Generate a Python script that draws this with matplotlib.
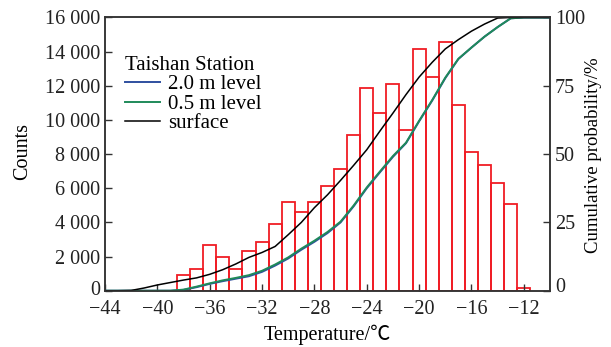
import numpy as np
import matplotlib
matplotlib.use('Agg')
import matplotlib.pyplot as plt
from matplotlib.transforms import ScaledTranslation

plt.rcParams['font.family'] = ['Liberation Serif', 'Noto Sans CJK SC']
plt.rcParams['font.size'] = 14.5

# histogram of temperatures (bar centres, counts)
bin_centers = [-38, -37, -36, -35, -34, -33, -32, -31, -30, -29, -28, -27, -26, -25,
               -24, -23, -22, -21, -20, -19, -18, -17, -16, -15, -14, -13, -12]
counts = [900, 1250, 2700, 2000, 1300, 2350, 2850, 3900, 5200, 4600, 5200, 6120, 7130, 9140,
          11900, 10420, 12100, 9400, 14180, 12540, 14540, 10900, 8150, 7350, 6320, 5080, 180]

# cumulative probability curves (%)
curve_temp = [-44, -43, -42, -41, -40, -39, -38, -37, -36, -35, -34, -33, -32, -31, -30,
              -29, -28, -27, -26, -25, -24, -23, -22, -21, -20, -19, -18, -17, -16, -15,
              -14, -13, -12, -11, -10]
surface = [0, 0, 0.1, 1.0, 2.1, 3.0, 3.9, 4.7, 6.0, 7.7, 9.8, 12.2, 14.0, 16.2, 20.5,
           25.0, 30.4, 35.1, 40.4, 45.9, 51.6, 58.4, 65.0, 71.8, 78.2, 83.6, 88.5, 91.9, 95.0, 97.6,
           99.8, 100, 100, 100, 100]
level_05 = [0, 0, 0, 0, 0, 0, 0.4, 1.5, 2.7, 3.8, 4.7, 5.7, 7.3, 9.6, 12.2,
            15.4, 18.3, 21.5, 25.3, 31.2, 37.8, 43.6, 49.3, 54.2, 62.2, 69.8, 78.0, 84.9, 89.0, 93.0,
            96.5, 99.7, 100, 100, 100]
level_20 = [0, 0, 0, 0, 0, 0, 0.3, 1.3, 2.5, 3.5, 4.4, 5.3, 6.9, 9.2, 11.8,
            15.0, 17.9, 21.1, 25.0, 30.9, 37.5, 43.3, 49.0, 54.0, 62.0, 69.6, 77.8, 84.8, 89.0, 93.0,
            96.5, 99.7, 100, 100, 100]

x_ticks = [-44, -40, -36, -32, -28, -24, -20, -16, -12]
y_ticks = [0, 2000, 4000, 6000, 8000, 10000, 12000, 14000, 16000]
y_tick_labels = ['0', '2 000', '4 000', '6 000', '8 000', '10 000', '12 000', '14 000', '16 000']
p_ticks = [0, 25, 50, 75, 100]

fig = plt.figure(figsize=(6.11, 3.47), dpi=100)
ax = fig.add_axes([0.1718, 0.1622, 0.7284, 0.7874])

ax.bar(bin_centers, counts, width=1.0, facecolor='none', edgecolor='#f01c24', linewidth=1.3)
ax.set_xlim(-44, -10)
ax.set_ylim(0, 16000)
ax.set_xticks(x_ticks)
ax.set_yticks(y_ticks)
ax.set_yticklabels(y_tick_labels)
ax.set_xlabel('Temperature/℃', labelpad=4)
ax.set_ylabel('Counts')
ax.yaxis.set_label_coords(-0.164, 0.51)
ax.tick_params(direction='in', length=5, width=1, colors='#333333', labelcolor='#222222')
ax.tick_params(axis='x', pad=7)

ax2 = ax.twinx()
ax2.plot(curve_temp, level_20, color='#2f4f9f', linewidth=1.4, label='2.0 m level')
ax2.plot(curve_temp, level_05, color='#1f8a5a', linewidth=1.4, label='0.5 m level')
ax2.plot(curve_temp, surface, color='black', linewidth=1.1, label='surface')
ax2.set_ylim(0, 100)
ax2.set_yticks(p_ticks)
ax2.set_ylabel('Cumulative probability/%', fontsize=13.5)
ax2.yaxis.set_label_coords(1.079, 0.495)
ax2.tick_params(direction='in', length=5, width=1, colors='#333333', labelcolor='#222222')

for a in (ax, ax2):
    for s in a.spines.values():
        s.set_color('#333333')
        s.set_linewidth(1.1)

# nudge the two "0" labels upward, as in the original
lab0 = ax.get_yticklabels()[0]
lab0.set_transform(lab0.get_transform() + ScaledTranslation(0, 3 / 100, fig.dpi_scale_trans))
rlab0 = ax2.get_yticklabels()[0]
rlab0.set_transform(rlab0.get_transform() + ScaledTranslation(0, 6 / 100, fig.dpi_scale_trans))

leg = ax2.legend(loc='upper left', bbox_to_anchor=(0.045, 0.86), frameon=False,
                 title='Taishan Station', alignment='left', handlelength=1.7,
                 handletextpad=0.35, labelspacing=0.0, borderaxespad=0, borderpad=0,
                 fontsize=15, title_fontsize=15)

fig.savefig('out.png', dpi=100)
